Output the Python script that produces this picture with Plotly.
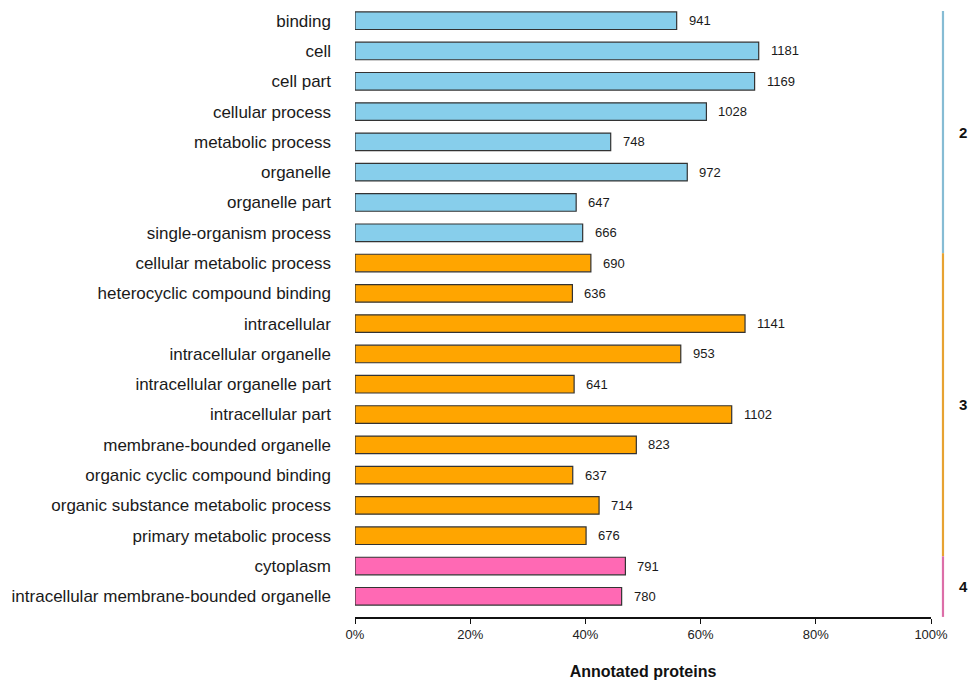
import plotly.graph_objects as go

# GO terms, annotated protein counts and the cluster each term belongs to
categories = [
    "binding", "cell", "cell part", "cellular process", "metabolic process",
    "organelle", "organelle part", "single-organism process",
    "cellular metabolic process", "heterocyclic compound binding",
    "intracellular", "intracellular organelle", "intracellular organelle part",
    "intracellular part", "membrane-bounded organelle",
    "organic cyclic compound binding", "organic substance metabolic process",
    "primary metabolic process", "cytoplasm",
    "intracellular membrane-bounded organelle",
]
counts = [941, 1181, 1169, 1028, 748, 972, 647, 666, 690, 636,
          1141, 953, 641, 1102, 823, 637, 714, 676, 791, 780]
clusters = ["2"] * 8 + ["3"] * 10 + ["4"] * 2
total_proteins = 1685

cluster_colors = {"2": "#87CEEB", "3": "#FFA500", "4": "#FF69B4"}
line_colors = {"2": "#86BCD4", "3": "#E7A231", "4": "#DC6EA8"}

shares = [c / total_proteins for c in counts]
ypos = list(range(len(categories)))

fig = go.Figure()
fig.add_trace(go.Bar(
    x=shares, y=ypos, orientation="h", width=0.58,
    marker=dict(color=[cluster_colors[g] for g in clusters],
                line=dict(color="#333333", width=1.2)),
    hoverinfo="skip", showlegend=False,
))

# count labels to the right of each bar
for yv, s, c in zip(ypos, shares, counts):
    fig.add_annotation(x=s, y=yv, text=str(c), showarrow=False,
                       xanchor="left", yanchor="middle", xshift=10,
                       font=dict(size=13, color="#1a1a1a"))

# cluster strip on the right-hand side
order = []
for g in clusters:
    if g not in order:
        order.append(g)
start = -0.32
for g in order:
    n = clusters.count(g)
    end = start + n
    fig.add_shape(type="line", xref="paper", yref="y",
                  x0=1.0208, x1=1.0208, y0=start, y1=end,
                  line=dict(color=line_colors[g], width=2.2))
    fig.add_annotation(xref="paper", yref="y", x=1.0556, y=(start + end) / 2,
                       text=f"<b>{g}</b>", showarrow=False,
                       xanchor="center", yanchor="middle",
                       font=dict(size=15, color="#111111"))
    start = end

fig.update_layout(
    width=969, height=683,
    margin=dict(l=355, r=38, t=0, b=66),
    paper_bgcolor="white", plot_bgcolor="white",
    font=dict(family="Liberation Sans, Arial, sans-serif", color="#1a1a1a"),
    bargap=0.4,
)
fig.update_xaxes(
    range=[0, 1], tickvals=[0, 0.2, 0.4, 0.6, 0.8, 1.0],
    tickformat=".0%", showgrid=False, zeroline=False,
    showline=True, linecolor="#111111", linewidth=1.6,
    ticks="outside", ticklen=5, tickwidth=1.2, tickcolor="#111111",
    tickfont=dict(size=13, color="#222222"),
    title=dict(text="<b>Annotated proteins</b>", standoff=24,
               font=dict(size=16, color="#111111")),
)
fig.update_yaxes(
    range=[19.683, -0.683], tickvals=ypos, ticktext=categories,
    showgrid=False, zeroline=False, showline=False, ticks="",
    ticklabelstandoff=23,
    tickfont=dict(size=17, color="#1a1a1a"),
)

fig.write_html("out.html")
